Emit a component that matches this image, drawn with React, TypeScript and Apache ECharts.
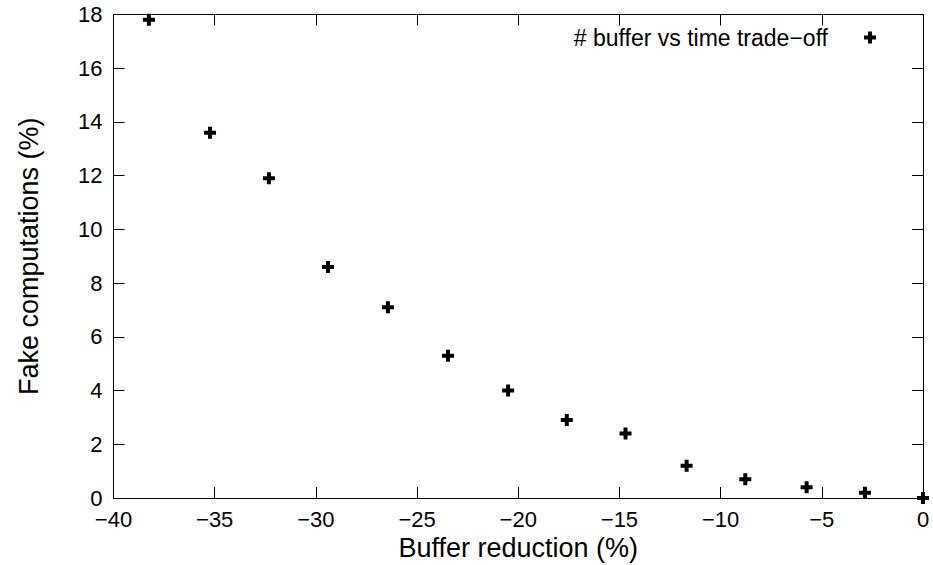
import React, { useEffect, useRef } from "react";
import * as echarts from "echarts";

const bufferReduction = [-38.25, -35.23, -32.32, -29.4, -26.44, -23.47, -20.5, -17.6, -14.7, -11.68, -8.78, -5.75, -2.87, 0];
const fakeComputations = [17.8, 13.6, 11.9, 8.6, 7.1, 5.3, 4.0, 2.9, 2.4, 1.2, 0.7, 0.4, 0.2, 0];
const seriesName = "# buffer vs time trade\u2212off";
const xTitle = "Buffer reduction (%)";
const yTitle = "Fake computations (%)";

const plusPath = "path://M4,0H8V4H12V8H8V12H4V8H0V4H4Z";
const FONT = "'Liberation Sans', Arial, Helvetica, sans-serif";
const minus = (v: number) => String(v).replace("-", "\u2212");

export default function App() {
  const ref = useRef<HTMLDivElement>(null);
  useEffect(() => {
    if (!ref.current) return;
    const chart = echarts.init(ref.current, undefined, { renderer: "svg" });
    const axisLine = { show: true, onZero: false, lineStyle: { color: "#000", width: 1 } };
    const tick = { show: true, inside: true, length: 11, lineStyle: { color: "#000", width: 1 } };
    chart.setOption({
      animation: false,
      backgroundColor: "#fff",
      grid: { left: 113.5, right: 10, top: 14.5, bottom: 67, containLabel: false, outerBoundsMode: "none" },
      legend: {
        data: [{ name: seriesName, icon: plusPath }],
        align: "right",
        right: 57,
        top: 26,
        padding: 0,
        itemWidth: 74,
        itemHeight: 12,
        symbolKeepAspect: true,
        itemStyle: { color: "#000" },
        textStyle: { fontFamily: FONT, fontSize: 23, color: "#000" },
      },
      xAxis: [
        {
          type: "value",
          min: -40,
          max: 0,
          interval: 5,
          position: "bottom",
          name: xTitle,
          nameLocation: "middle",
          nameGap: 29,
          nameTextStyle: { fontFamily: FONT, fontSize: 27, color: "#000" },
          axisLine,
          axisTick: tick,
          splitLine: { show: false },
          axisLabel: { fontFamily: FONT, fontSize: 22, color: "#000", margin: 10, formatter: minus },
        },
        {
          type: "value",
          min: -40,
          max: 0,
          interval: 5,
          position: "top",
          axisLine,
          axisTick: tick,
          splitLine: { show: false },
          axisLabel: { show: false },
        },
      ],
      yAxis: [
        {
          type: "value",
          min: 0,
          max: 18,
          interval: 2,
          position: "left",
          name: yTitle,
          nameLocation: "middle",
          nameGap: 71,
          nameTextStyle: { fontFamily: FONT, fontSize: 27, color: "#000" },
          axisLine,
          axisTick: tick,
          splitLine: { show: false },
          axisLabel: { fontFamily: FONT, fontSize: 22, color: "#000", margin: 11, formatter: minus },
        },
        {
          type: "value",
          min: 0,
          max: 18,
          interval: 2,
          position: "right",
          axisLine,
          axisTick: tick,
          splitLine: { show: false },
          axisLabel: { show: false },
        },
      ],
      series: [
        {
          name: seriesName,
          type: "scatter",
          xAxisIndex: 0,
          yAxisIndex: 0,
          clip: false,
          symbol: plusPath,
          symbolSize: 12,
          itemStyle: { color: "#000", opacity: 1 },
          data: bufferReduction.map((x, i) => [x, fakeComputations[i]]),
        },
      ],
    });
    return () => chart.dispose();
  }, []);
  return <div ref={ref} style={{ width: 933, height: 565, position: "absolute", left: 0, top: 0 }} />;
}
